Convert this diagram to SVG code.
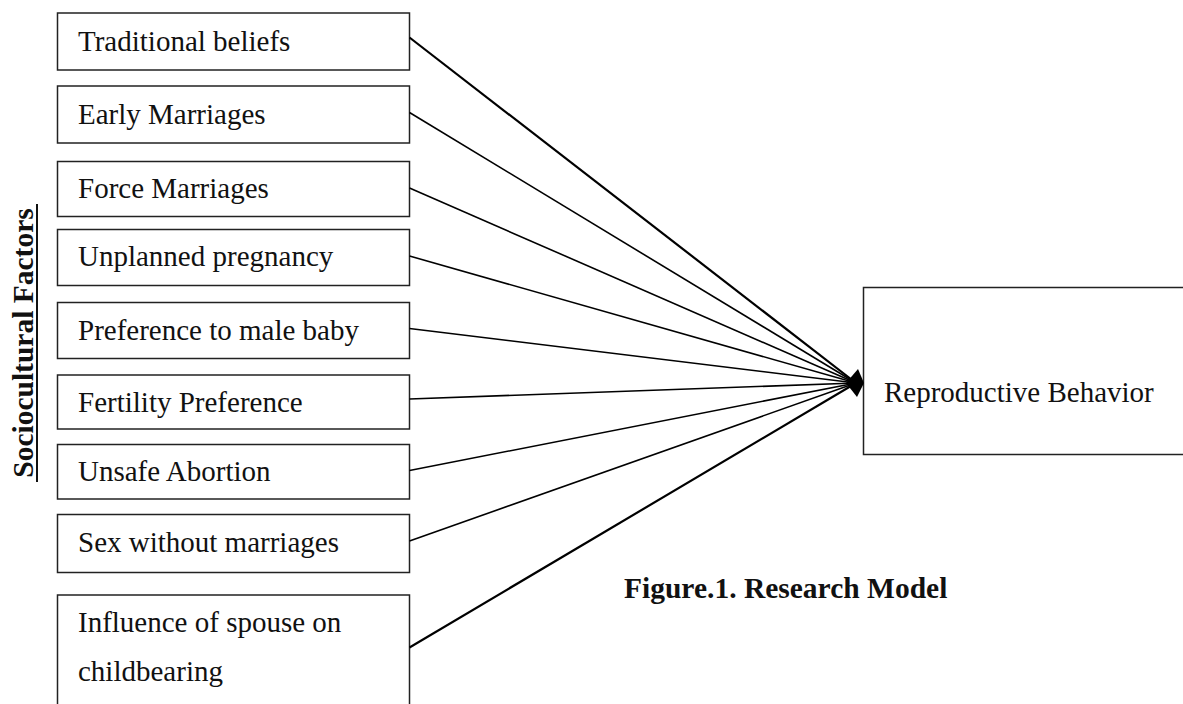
<svg xmlns="http://www.w3.org/2000/svg" width="1183" height="704" viewBox="0 0 1183 704">
<style>
.box{fill:#fff;stroke:#222;stroke-width:1.5}
.t{font-family:"Liberation Serif","Times New Roman",serif;font-size:29px;fill:#111}
.b{font-family:"Liberation Serif","Times New Roman",serif;font-size:29.5px;font-weight:bold;fill:#111}
.c{stroke:#000;stroke-width:1.6;fill:none}
.c2{stroke:#000;stroke-width:2.2;fill:none}
</style>
<rect width="1183" height="704" fill="#fff"/>
<g id="label-sociocultural">
<text class="b" transform="translate(33,343) rotate(-90)" text-anchor="middle">Sociocultural Factors</text>
<line x1="37" y1="482" x2="37" y2="204" stroke="#111" stroke-width="2"/>
</g>
<g id="node-traditional"><rect class="box" x="57.5" y="13" width="352" height="57"/><text class="t" x="78" y="50.5">Traditional beliefs</text></g>
<g id="node-early"><rect class="box" x="57.5" y="86" width="352" height="57"/><text class="t" x="78" y="123.5">Early Marriages</text></g>
<g id="node-force"><rect class="box" x="57.5" y="161.5" width="352" height="55"/><text class="t" x="78" y="197.5">Force Marriages</text></g>
<g id="node-unplanned"><rect class="box" x="57.5" y="229.5" width="352" height="56"/><text class="t" x="78" y="266">Unplanned pregnancy</text></g>
<g id="node-preference-male"><rect class="box" x="57.5" y="302.5" width="352" height="56"/><text class="t" x="78" y="339.5">Preference to male baby</text></g>
<g id="node-fertility"><rect class="box" x="57.5" y="375" width="352" height="54"/><text class="t" x="78" y="411.5">Fertility Preference</text></g>
<g id="node-unsafe"><rect class="box" x="57.5" y="444.5" width="352" height="54.5"/><text class="t" x="78" y="480.5">Unsafe Abortion</text></g>
<g id="node-sex"><rect class="box" x="57.5" y="514.5" width="352" height="58"/><text class="t" x="78" y="551.5">Sex without marriages</text></g>
<g id="node-influence"><rect class="box" x="57.5" y="595" width="352" height="130"/><text class="t" x="78" y="632">Influence of spouse on</text><text class="t" x="78" y="681">childbearing</text></g>
<g id="node-reproductive"><rect class="box" x="863.5" y="287.5" width="340" height="167"/><text class="t" x="884" y="402">Reproductive Behavior</text></g>
<g id="connectors">
<line class="c2" x1="409.5" y1="37.5" x2="856" y2="383"/>
<line class="c" x1="409.5" y1="112.5" x2="856" y2="383"/>
<line class="c" x1="409.5" y1="188" x2="856" y2="383"/>
<line class="c" x1="409.5" y1="256" x2="856" y2="383"/>
<line class="c" x1="409.5" y1="328.5" x2="856" y2="383"/>
<line class="c" x1="409.5" y1="399" x2="856" y2="383"/>
<line class="c" x1="409.5" y1="470.5" x2="856" y2="383"/>
<line class="c" x1="409.5" y1="541" x2="856" y2="383"/>
<line class="c2" x1="409.5" y1="647.5" x2="856" y2="383"/>
<polygon points="846,383 858,369 864,383 857,397" fill="#000"/>
</g>
<g id="caption"><text class="b" x="624" y="598">Figure.1. Research Model</text></g>
</svg>
